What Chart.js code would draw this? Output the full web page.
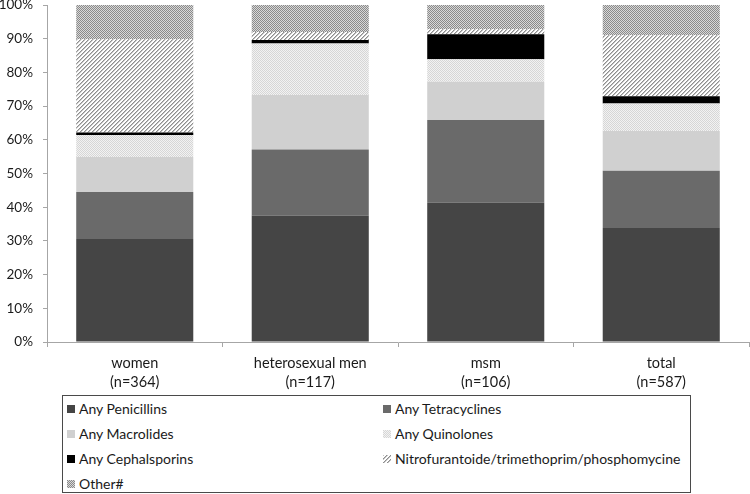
<!DOCTYPE html>
<html>
<head>
<meta charset="utf-8">
<script src="https://cdn.jsdelivr.net/npm/chart.js@4/dist/chart.umd.min.js"></script>
<style>
  body { margin: 0; background: #fff; }
  .wrap { position: relative; width: 750px; height: 494px; }
  #chart { position: absolute; left: 0; top: 0; }
  .legend {
    position: absolute; left: 62px; top: 395px; width: 627px; height: 96px;
    border: 1px solid #4a4a4a; font-family: Lato, sans-serif; font-size: 14px; color: #1a1a1a;
  }
  .legend .item { position: absolute; height: 20px; line-height: 20px; white-space: nowrap; }
  .legend canvas { vertical-align: middle; margin-right: 4px; position: relative; top: -1px; }
</style>
</head>
<body>
<div class="wrap">
  <canvas id="chart" width="750" height="394"></canvas>
  <div class="legend" id="legend"></div>
</div>
<script>
const groups = [["women", "(n=364)"], ["heterosexual men", "(n=117)"], ["msm", "(n=106)"], ["total", "(n=587)"]];

const seriesNames = [
  "Any Penicillins",
  "Any Tetracyclines",
  "Any Macrolides",
  "Any Quinolones",
  "Any Cephalsporins",
  "Nitrofurantoide/trimethoprim/phosphomycine",
  "Other#",
];

// percent of each group, stacked bottom to top
const penicillins = [30.6, 37.5, 41.3, 33.8];
const tetracyclines = [13.9, 19.6, 24.6, 17.0];
const macrolides = [10.4, 16.2, 11.3, 11.8];
const quinolones = [6.5, 15.3, 6.7, 8.2];
const cephalosporins = [0.8, 1.0, 7.4, 2.1];
const nitrofurantoin = [27.6, 2.4, 1.5, 18.1];
const other = [10.2, 8.0, 7.2, 9.0];

const yTicks = [0, 10, 20, 30, 40, 50, 60, 70, 80, 90, 100];

// ---- fill patterns ----
function checker(a, b) {
  const c = document.createElement("canvas");
  c.width = 2; c.height = 2;
  const g = c.getContext("2d");
  g.fillStyle = a; g.fillRect(0, 0, 2, 2);
  g.fillStyle = b; g.fillRect(0, 0, 1, 1); g.fillRect(1, 1, 1, 1);
  return g.createPattern(c, "repeat");
}

function hatch() {
  const c = document.createElement("canvas");
  c.width = 4; c.height = 4;
  const g = c.getContext("2d");
  g.fillStyle = "#fff"; g.fillRect(0, 0, 4, 4);
  g.fillStyle = "#8e8e8e";
  for (let i = 0; i < 4; i++) g.fillRect(i, 3 - i, 1, 1);
  g.fillStyle = "#c4c4c4";
  for (let i = 0; i < 4; i++) g.fillRect((i + 1) % 4, 3 - i, 1, 1);
  return g.createPattern(c, "repeat");
}

const fills = [
  "#454545",
  "#6a6a6a",
  "#d0d0d0",
  checker("#f2f2f2", "#d6d6d6"),
  "#000000",
  hatch(),
  checker("#d8d8d8", "#8a8a8a"),
];

const values = [penicillins, tetracyclines, macrolides, quinolones, cephalosporins, nitrofurantoin, other];

const fontFamily = "Lato, sans-serif";

const chart = new Chart(document.getElementById("chart"), {
  type: "bar",
  data: {
    labels: groups,
    datasets: seriesNames.map((name, i) => ({
      label: name,
      data: values[i],
      backgroundColor: fills[i],
      borderWidth: 0,
      barPercentage: 0.667,
      categoryPercentage: 1,
    })),
  },
  options: {
    responsive: false,
    animation: false,
    layout: { padding: { top: 5, right: 1, left: 0, bottom: 0 } },
    plugins: { legend: { display: false }, tooltip: { enabled: false } },
    scales: {
      x: {
        stacked: true,
        grid: { display: true, drawOnChartArea: false, offset: true, tickLength: 5, color: "#a6a6a6" },
        border: { color: "#a6a6a6" },
        ticks: { color: "#1a1a1a", font: { family: fontFamily, size: 14.5, lineHeight: 1.3 }, padding: 7, maxRotation: 0 },
        afterFit: (s) => { s.height = 52; },
      },
      y: {
        stacked: true,
        min: 0,
        max: 100,
        grid: { display: true, drawOnChartArea: false, tickLength: 4, color: "#a6a6a6" },
        border: { color: "#a6a6a6" },
        afterBuildTicks: (s) => { s.ticks = yTicks.map((v) => ({ value: v })); },
        ticks: { color: "#1a1a1a", font: { family: fontFamily, size: 13.5 }, padding: 10, callback: (v) => v + "%" },
        afterFit: (s) => { s.width = 47; s.paddingTop = 0; s.paddingBottom = 0; },
      },
    },
  },
});

// ---- legend in a box, two columns ----
const legendEl = document.getElementById("legend");
chart.data.datasets.forEach((ds, i) => {
  const item = document.createElement("div");
  item.className = "item";
  item.style.left = (i % 2 ? 320 : 4) + "px";
  item.style.top = (3 + 25 * Math.floor(i / 2)) + "px";
  const sw = document.createElement("canvas");
  sw.width = 8; sw.height = 8;
  const g = sw.getContext("2d");
  g.fillStyle = ds.backgroundColor;
  g.fillRect(0, 0, 8, 8);
  item.appendChild(sw);
  item.appendChild(document.createTextNode(ds.label));
  legendEl.appendChild(item);
});
</script>
</body>
</html>
